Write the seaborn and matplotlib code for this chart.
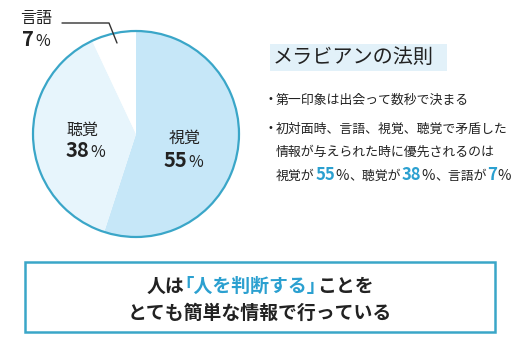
import matplotlib
matplotlib.use("Agg")
import matplotlib.pyplot as plt
import seaborn as sns
from matplotlib.patches import Rectangle

sns.set_theme(style="white")
plt.rcParams['font.family'] = ['Noto Sans CJK JP', 'DejaVu Sans']

# ---- data ----
categories = ['視覚', '聴覚', '言語']
values = [55, 38, 7]
title = 'メラビアンの法則'
bullet1 = '第一印象は出会って数秒で決まる'
bullet2 = ['初対面時、言語、視覚、聴覚で矛盾した', '情報が与えられた時に優先されるのは']
summary_line1 = [('人は', 'k'), ('｢人を判断する｣', 'b'), ('ことを', 'k')]
summary_line2 = 'とても簡単な情報で行っている'

W, H = 520, 339
DARK = '#222222'
BLUE = '#2ba0d0'
EDGE = '#3aa6c8'
pie_colors = ['#c6e7f8', '#e7f5fc', '#ffffff']

fig = plt.figure(figsize=(W / 100, H / 100), dpi=100)
ax = fig.add_axes([0, 0, 1, 1])

def Y(y):
    return H - y

cx, cy, r = 136, 134, 103
ax.pie(values, colors=pie_colors, startangle=90, counterclock=False,
       center=(cx, Y(cy)), radius=r, wedgeprops=dict(linewidth=0))
ax.pie([100], colors=['none'], center=(cx, Y(cy)), radius=r,
       wedgeprops=dict(linewidth=1.6, edgecolor=EDGE, facecolor='none'))

ax.set_xlim(0, W)
ax.set_ylim(0, H)
ax.set_aspect('equal')
ax.axis('off')

fig.canvas.draw()
renderer = fig.canvas.get_renderer()

def pct_label(x, y, num, size_num=14.5, size_pct=11.5):
    ax.text(x, Y(y), str(num), fontsize=size_num, fontweight='bold',
            color=DARK, ha='right', va='baseline')
    ax.text(x + 1.5, Y(y), '%', fontsize=size_pct, color=DARK,
            ha='left', va='baseline')

# pie labels
ax.text(185, Y(138), categories[0], fontsize=11.5, color=DARK, ha='center', va='center')
pct_label(187, 167, values[0])
ax.text(82, Y(130), categories[1], fontsize=11.5, color=DARK, ha='center', va='center')
pct_label(89, 157, values[1])
ax.text(20, Y(18), categories[2], fontsize=11.5, color=DARK, ha='left', va='center')
pct_label(34, 46, values[2])

# leader line
ax.plot([62, 109, 117], [Y(23), Y(23), Y(43)], color='#333333', lw=1.0)

# title with background
ax.add_patch(Rectangle((270, Y(71)), 177, 27, facecolor='#e2f1f9', edgecolor='none'))
ax.text(273, Y(57), title, fontsize=14.5, color=DARK, ha='left', va='center')

# bullets
bfs = 9.3
for yy in (99, 128):
    ax.text(270, Y(yy), '•', fontsize=7, color=DARK, ha='center', va='center',
            family='DejaVu Sans')
ax.text(276, Y(100), bullet1, fontsize=bfs, color=DARK, ha='left', va='center')
ax.text(276, Y(129), bullet2[0], fontsize=bfs, color=DARK, ha='left', va='center')
ax.text(276, Y(152), bullet2[1], fontsize=bfs, color=DARK, ha='left', va='center')

# mixed line
parts = [('視覚が', DARK, 'normal', bfs), (str(values[0]), BLUE, 'bold', 12),
         ('%', DARK, 'normal', 10.5), ('、聴覚が', DARK, 'normal', bfs),
         (str(values[1]), BLUE, 'bold', 12),
         ('%', DARK, 'normal', 10.5), ('、言語が', DARK, 'normal', bfs),
         (str(values[2]), BLUE, 'bold', 12),
         ('%', DARK, 'normal', 10.5)]
x0 = 276
for s, c, w, fs in parts:
    t = ax.text(x0, Y(180), s, color=c, fontweight=w, fontsize=fs,
                ha='left', va='baseline')
    bb = t.get_window_extent(renderer)
    x0 += bb.width + 0.5

# summary box
ax.add_patch(Rectangle((25, Y(332)), 470, 70, facecolor='white',
                       edgecolor=EDGE, linewidth=1.8))

fs_sum = 13.6
widths = []
for s, c in summary_line1:
    t = ax.text(0, 0, s, fontsize=fs_sum, fontweight='bold')
    widths.append(t.get_window_extent(renderer).width)
    t.remove()
x0 = 260 - sum(widths) / 2
for (s, c), w in zip(summary_line1, widths):
    ax.text(x0, Y(286), s, fontsize=fs_sum, fontweight='bold',
            color=BLUE if c == 'b' else DARK, ha='left', va='center')
    x0 += w
ax.text(260, Y(313), summary_line2, fontsize=fs_sum, fontweight='bold',
        color=DARK, ha='center', va='center')

fig.savefig('out.png', dpi=100)
